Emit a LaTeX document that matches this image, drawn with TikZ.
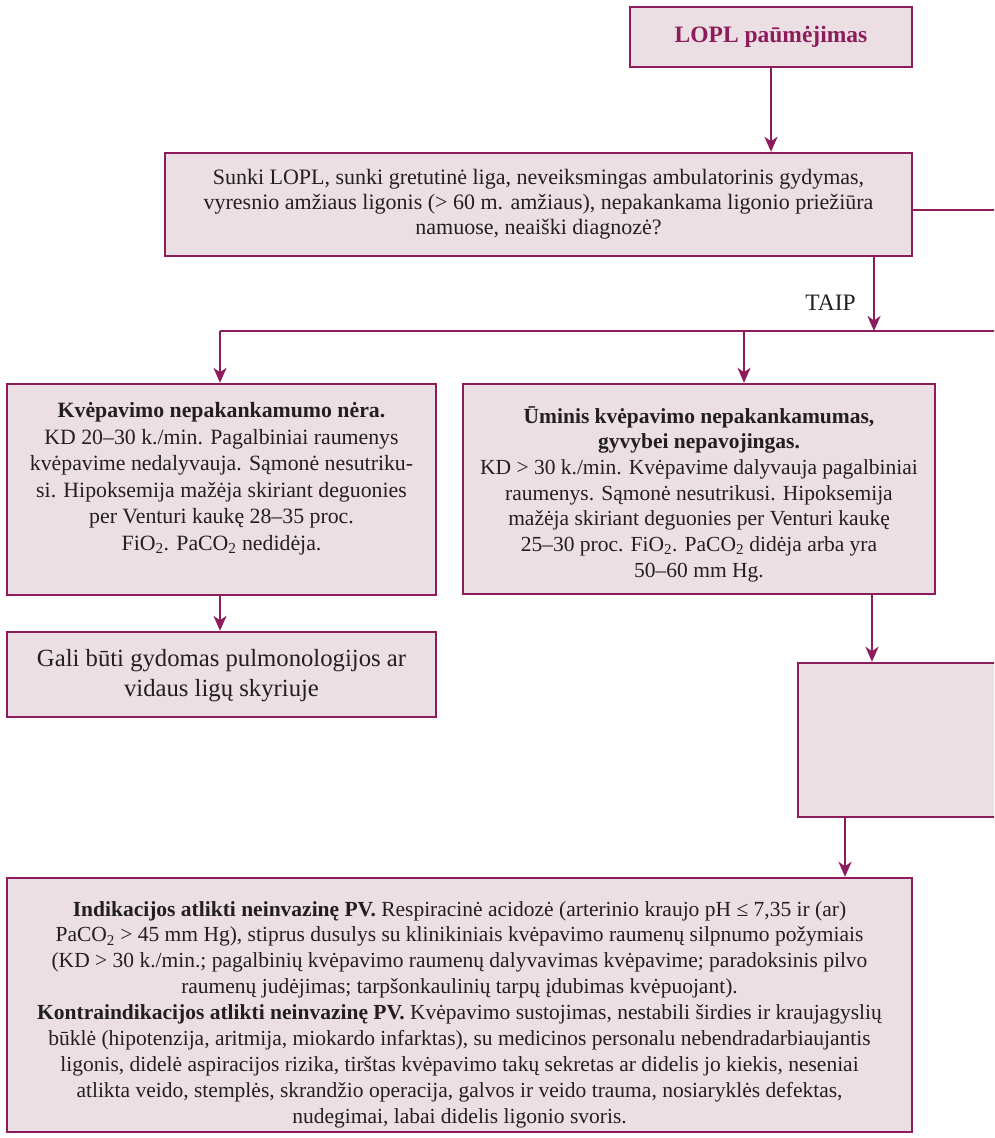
\documentclass[tikz,border=0pt]{standalone}
\usepackage{fontspec}
\setmainfont{Liberation Serif}
\usetikzlibrary{arrows.meta}
\definecolor{plum}{HTML}{8C1C5C}
\definecolor{boxfill}{HTML}{EBDFE3}
\definecolor{ink}{HTML}{231F20}
\tikzset{
  box/.style={draw=plum, fill=boxfill, line width=2.4pt, inner sep=0pt},
  txt/.style={align=center, text=ink, inner sep=0pt},
  conn/.style={draw=plum, line width=2.4pt},
  arr/.style={conn, -{Stealth[length=15pt,width=13pt,inset=4.5pt]}}
}
\begin{document}
\begin{tikzpicture}[x=1pt,y=-1pt]
\useasboundingbox (0,0) rectangle (994,1138);
\clip (0,0) rectangle (994,1138);
% boxes
\node[box, minimum width=282pt, minimum height=60pt] (top) at (771,37) {};
\node[box, minimum width=747pt, minimum height=103pt] (q) at (538.5,204.5) {};
\node[box, minimum width=429pt, minimum height=211pt] (left) at (221.5,489.5) {};
\node[box, minimum width=472pt, minimum height=210pt] (mid) at (699,489) {};
\node[box, minimum width=429pt, minimum height=85pt] (lb) at (221.5,674.5) {};
\node[box, minimum width=302pt, minimum height=154pt] (right) at (949,740) {};
\node[box, minimum width=905pt, minimum height=254pt] (bot) at (459.5,1005) {};
% texts
\node[txt, text=plum, font=\fontsize{23.5}{28}\selectfont\bfseries] (topt) at (top.center) {LOPL paūmėjimas};
\node[txt, font=\fontsize{22}{25}\selectfont] (qt) at (q.center) {Sunki LOPL, sunki gretutinė liga, neveiksmingas ambulatorinis gydymas,\\ vyresnio amžiaus ligonis (> 60 m. amžiaus), nepakankama ligonio priežiūra\\ namuose, neaiški diagnozė?};
\node[txt, font=\fontsize{21.8}{26.5}\selectfont] (leftt) at (221.5,478.5) {\textbf{Kvėpavimo nepakankamumo nėra.}\\ KD 20–30 k./min. Pagalbiniai raumenys\\ kvėpavime nedalyvauja. Sąmonė nesutriku-\\ si. Hipoksemija mažėja skiriant deguonies\\ per Venturi kaukę 28–35 proc.\\ FiO\textsubscript{2}. PaCO\textsubscript{2} nedidėja.};
\node[txt, font=\fontsize{21.5}{25.7}\selectfont] (midt) at (699,494) {\textbf{Ūminis kvėpavimo nepakankamumas,}\\ \textbf{gyvybei nepavojingas.}\\ KD > 30 k./min. Kvėpavime dalyvauja pagalbiniai\\ raumenys. Sąmonė nesutrikusi. Hipoksemija\\ mažėja skiriant deguonies per Venturi kaukę\\ 25–30 proc. FiO\textsubscript{2}. PaCO\textsubscript{2} didėja arba yra\\ 50–60 mm Hg.};
\node[txt, font=\fontsize{24.7}{30}\selectfont] (lbt) at (221.5,676) {Gali būti gydomas pulmonologijos ar\\ vidaus ligų skyriuje};
\node[txt, font=\fontsize{21.5}{25.9}\selectfont] (bott) at (459.5,1014.5) {\textbf{Indikacijos atlikti neinvazinę PV.} Respiracinė acidozė (arterinio kraujo pH ≤ 7,35 ir (ar)\\ PaCO\textsubscript{2} > 45 mm Hg), stiprus dusulys su klinikiniais kvėpavimo raumenų silpnumo požymiais\\ (KD > 30 k./min.; pagalbinių kvėpavimo raumenų dalyvavimas kvėpavime; paradoksinis pilvo\\ raumenų judėjimas; tarpšonkaulinių tarpų įdubimas kvėpuojant).\\ \textbf{Kontraindikacijos atlikti neinvazinę PV.} Kvėpavimo sustojimas, nestabili širdies ir kraujagyslių\\ būklė (hipotenzija, aritmija, miokardo infarktas), su medicinos personalu nebendradarbiaujantis\\ ligonis, didelė aspiracijos rizika, tirštas kvėpavimo takų sekretas ar didelis jo kiekis, neseniai\\ atlikta veido, stemplės, skrandžio operacija, galvos ir veido trauma, nosiaryklės defektas,\\ nudegimai, labai didelis ligonio svoris.};
\node[txt, font=\fontsize{23.5}{26}\selectfont, anchor=east] (taip) at (856,303) {TAIP};
% coordinates
\coordinate (qr) at (1000,210);
\coordinate (hl) at (220,331);
\coordinate (hm) at (744,331);
\coordinate (hr) at (1000,331);
\coordinate (hq) at (874,331);
% connectors
\draw[arr] (top.south) -- (q.north -| top.south);
\draw[conn] (q.east |- qr) -- (qr);
\draw[arr] (q.south -| hq) -- (hq);
\draw[conn] (hl) -- (hr);
\draw[arr] (hl) -- (left.north -| hl);
\draw[arr] (hm) -- (mid.north -| hm);
\draw[arr] (left.south -| hl) -- (lb.north -| hl);
\coordinate (mx) at (872,0);
\coordinate (rx) at (845,0);
\draw[arr] (mid.south -| mx) -- (right.north -| mx);
\draw[arr] (right.south -| rx) -- (bot.north -| rx);
\end{tikzpicture}
\end{document}
